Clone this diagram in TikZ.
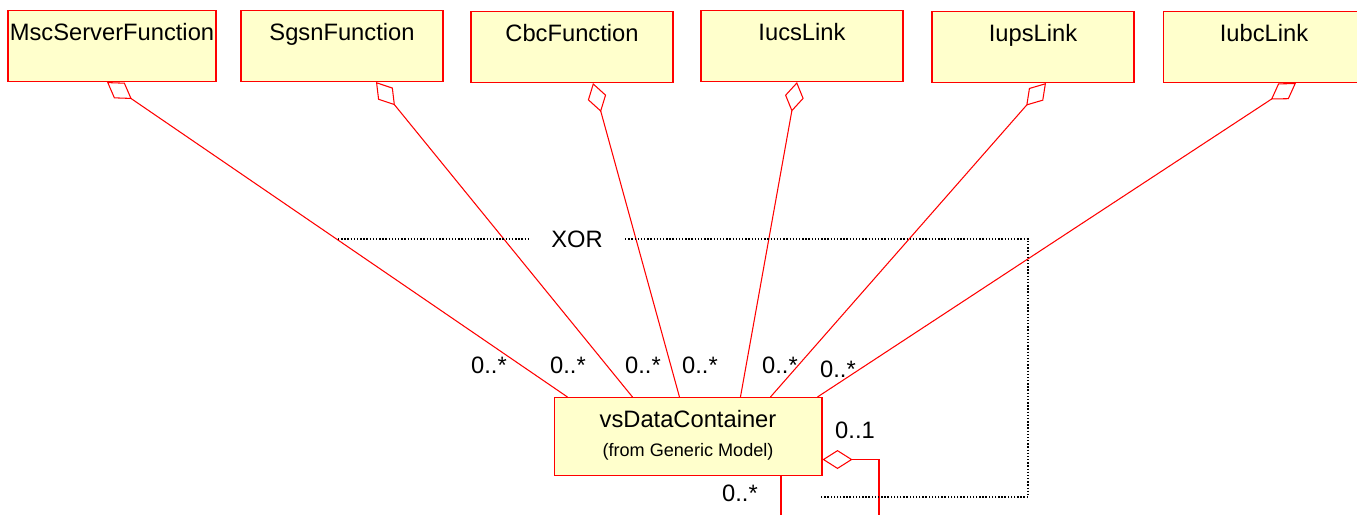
\documentclass[tikz,border=0pt]{standalone}
\usepackage{fontspec}
\setmainfont{Liberation Sans}
\usetikzlibrary{arrows.meta}
\definecolor{classfill}{RGB}{255,255,204}

\begin{document}
\begin{tikzpicture}[x=0.02cm, y=-0.02cm,
	cls/.style={draw=red, fill=classfill, line width=0.6pt, inner sep=0pt, minimum width=4.04cm,
		text height=0.6cm, text depth=0.82cm, anchor=north, font=\fontsize{13.5}{16}\selectfont},
	agg/.style={draw=red, line width=0.6pt, {Diamond[open, length=0.6cm, width=0.38cm]}-},
	assoc/.style={draw=red, line width=0.6pt},
	mult/.style={font=\fontsize{13.5}{16}\selectfont},
	xorline/.style={line width=0.8pt, dash pattern=on 0.8pt off 1pt}]
	\useasboundingbox (0,0) rectangle (1357,515);
	% classes
	\node[cls, minimum width=4.16cm] (msc) at (112,10) {MscServerFunction};
	\node[cls] (sgsn) at (342,10) {SgsnFunction};
	\node[cls] (cbc) at (572,11) {CbcFunction};
	\node[cls] (iucs) at (802,10) {IucsLink};
	\node[cls] (iups) at (1033,11) {IupsLink};
	\node[cls] (iubc) at (1264,11) {IubcLink};
	\node[cls, minimum width=5.36cm, text depth=0.96cm] (vs) at (688,397) {vsDataContainer};
	\node[font=\fontsize{10.3}{12}\selectfont, anchor=base] (vsfrom) at (688,456) {(from Generic Model)};
	% aggregations
	\draw[agg] ([xshift=-0.1cm]msc.south) -- ([xshift=0.28cm]vs.north west);
	\draw[agg] ([xshift=0.68cm]sgsn.south) -- ([xshift=1.58cm]vs.north west);
	\draw[agg] ([xshift=0.42cm]cbc.south) -- ([xshift=2.52cm]vs.north west);
	\draw[agg] ([xshift=-0.1cm]iucs.south) -- ([xshift=3.74cm]vs.north west);
	\draw[agg] ([xshift=0.26cm]iups.south) -- ([xshift=4.34cm]vs.north west);
	\draw[agg] ([xshift=0.64cm]iubc.south) -- ([xshift=5.28cm]vs.north west);
	\node[mult] (m1) at (489,365) {0..*};
	\node[mult] (m2) at (568,365) {0..*};
	\node[mult] (m3) at (643,365) {0..*};
	\node[mult] (m4) at (700,365) {0..*};
	\node[mult] (m5) at (780,365) {0..*};
	\node[mult] (m6) at (838,369) {0..*};
	% self association
	\coordinate (selfend) at (879,515);
	\coordinate (loopend) at (781,515);
	\draw[agg] ([yshift=-0.46cm]vs.east) -| (selfend);
	\draw[assoc] (vs.south -| loopend) -- (loopend);
	\node[mult] (mone) at (855,430) {0..1};
	\node[mult] (mmany) at (740,493) {0..*};
	% xor constraint
	\node[mult, inner xsep=0.44cm] (xor) at (577,239) {XOR};
	\coordinate (xorstart) at (338,239);
	\coordinate (xorend) at (820,497);
	\draw[xorline] (xorstart) -- (xor.west);
	\draw[xorline] (xor.east) -- (1028,239) |- (xorend);
\end{tikzpicture}
\end{document}
